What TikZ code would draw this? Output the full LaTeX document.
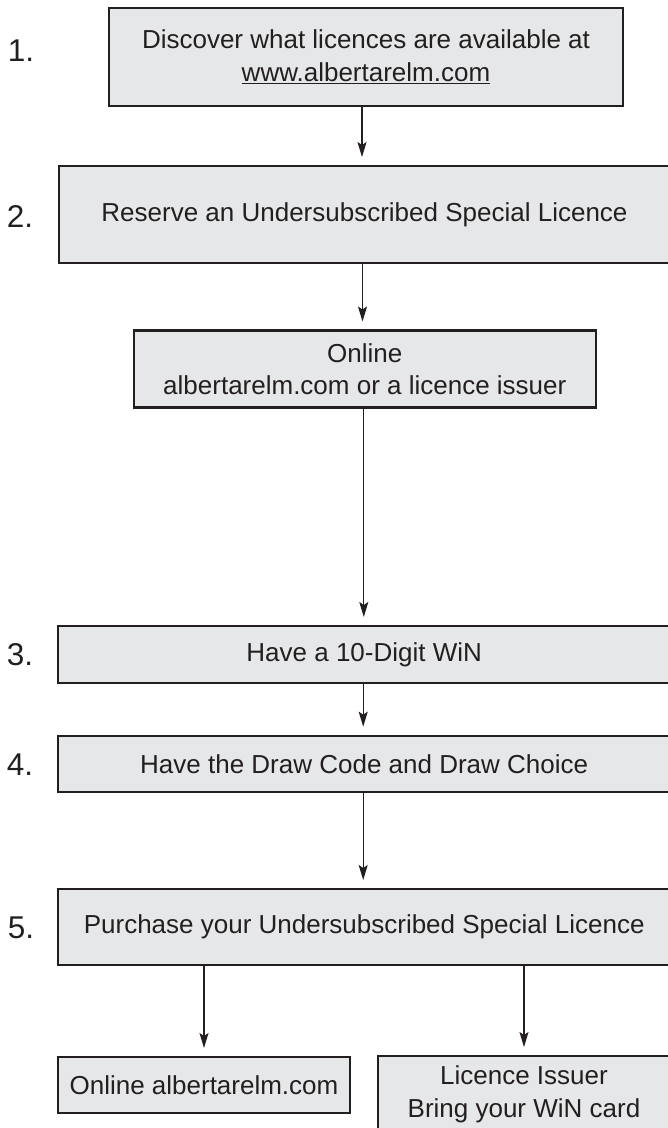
\documentclass[tikz,border=0pt]{standalone}
\usepackage{fontspec}
\setmainfont{Liberation Sans}
\usetikzlibrary{arrows.meta}
\definecolor{ink}{HTML}{231F20}
\definecolor{boxfill}{HTML}{E6E7E8}
\tikzset{
  stepbox/.style={draw=ink, fill=boxfill, line width=2.2pt, inner sep=0pt, outer sep=0pt,
    text=ink, align=center, font=\fontsize{26}{32.6}\selectfont},
  numlabel/.style={text=ink, font=\fontsize{31.5}{34}\selectfont, inner sep=0pt},
  arr/.style={draw=ink, line width=1.2pt, -{Stealth[length=15pt,width=9pt,inset=3pt]}, shorten >=9pt}
}
\begin{document}
\begin{tikzpicture}[x=1pt,y=1pt]
\useasboundingbox (0,0) rectangle (668,-1128);
\clip (0,0) rectangle (668,-1128);
% boxes
\node[stepbox, minimum width=514pt, minimum height=98pt] (b1) at (366,-57)
  {Discover what licences are available at\\\underline{www.albertarelm.com}};
\node[stepbox, minimum width=611pt, minimum height=97pt] (b2) at (364.5,-214.5)
  {Reserve an Undersubscribed Special Licence};
\node[stepbox, minimum width=462pt, minimum height=77pt] (on) at (364.8,-369)
  {Online\\albertarelm.com or a licence issuer};
\node[stepbox, minimum width=612pt, minimum height=57pt] (b3) at (364.2,-654.5)
  {Have a 10-Digit WiN};
\node[stepbox, minimum width=612pt, minimum height=56pt] (b4) at (364.2,-763.7)
  {Have the Draw Code and Draw Choice};
\node[stepbox, minimum width=612pt, minimum height=76pt] (b5) at (364.2,-927)
  {Purchase your Undersubscribed Special Licence};
\node[stepbox, minimum width=292pt, minimum height=56pt] (b6) at (204,-1085)
  {Online albertarelm.com};
\node[stepbox, minimum width=292pt, minimum height=76pt] (b7) at (524,-1094)
  {Licence Issuer\\Bring your WiN card};
% number labels
\node[numlabel] (n1) at (21,-51) {1.};
\node[numlabel] (n2) at (20,-216) {2.};
\node[numlabel] (n3) at (20,-655) {3.};
\node[numlabel] (n4) at (20,-765) {4.};
\node[numlabel] (n5) at (21,-928) {5.};
% connectors
\draw[arr] ([xshift=-4pt]b1.south) -- ([xshift=-4pt]b1.south |- b2.north);
\draw[arr] ([xshift=-2pt]b2.south) -- ([xshift=-2pt]b2.south |- on.north);
\draw[arr] ([xshift=-1pt]on.south) -- ([xshift=-1pt]on.south |- b3.north);
\draw[arr] ([xshift=-1pt]b3.south) -- ([xshift=-1pt]b3.south |- b4.north);
\draw[arr] ([xshift=-1pt]b4.south) -- ([xshift=-1pt]b4.south |- b5.north);
\draw[arr] (b6.north |- b5.south) -- (b6.north);
\draw[arr] (b7.north |- b5.south) -- (b7.north);
\end{tikzpicture}
\end{document}
